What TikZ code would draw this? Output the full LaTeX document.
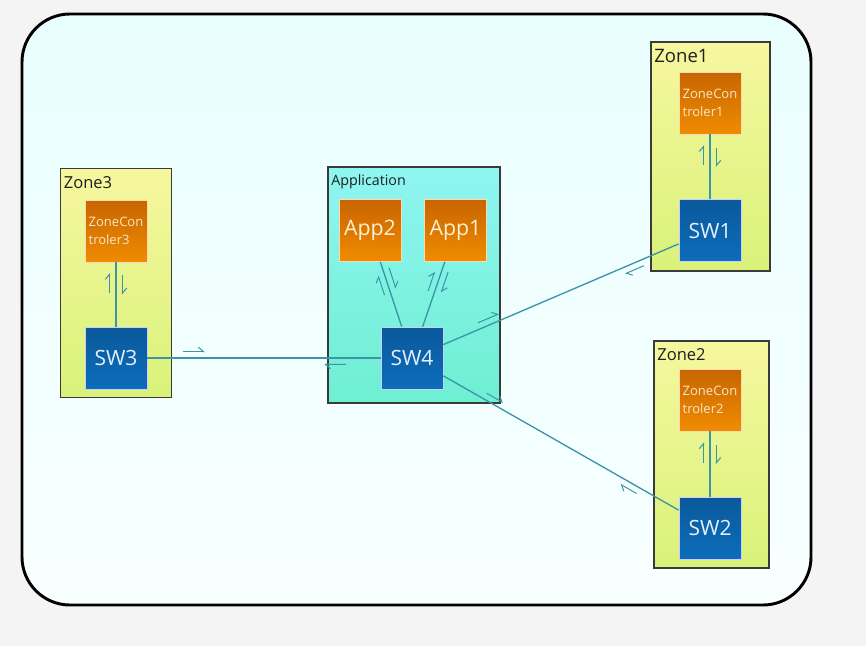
\documentclass[tikz,border=0pt]{standalone}
\usepackage{fontspec}
\setmainfont{Open Sans}
\usetikzlibrary{arrows.meta,calc}
\definecolor{pagebg}{HTML}{F4F4F4}
\definecolor{frametop}{HTML}{E9FEFE}
\definecolor{framebot}{HTML}{F8FFFF}
\definecolor{zonetop}{HTML}{F6F79E}
\definecolor{zonebot}{HTML}{D9F27A}
\definecolor{apptop}{HTML}{8FF5F1}
\definecolor{appbot}{HTML}{6EEFD2}
\definecolor{orgtop}{HTML}{C86500}
\definecolor{orgbot}{HTML}{F08C00}
\definecolor{bluetop}{HTML}{0A599B}
\definecolor{bluebot}{HTML}{0C6DBA}
\definecolor{conn}{HTML}{3C95A6}
\definecolor{zctext}{HTML}{F7E7C8}
\definecolor{apptext}{HTML}{FFF0D4}
\definecolor{swtext}{HTML}{E4F1FF}
\definecolor{zoneline}{HTML}{3A3A3A}
\newcommand\msgarr[4]{\draw[msg] ($ ($(#1)!#3!(#2)$)!4.8pt!90:(#2) $) -- ($ ($(#1)!#4!(#2)$)!4.8pt!90:(#2) $);}
\begin{document}
\begin{tikzpicture}[x=0.75pt,y=-0.75pt,
  framebox/.style={draw=black,line width=2.2pt,rounded corners=36pt,top color=frametop,bottom color=framebot},
  zonebox/.style={draw=zoneline,line width=0.8pt,top color=zonetop,bottom color=zonebot,inner sep=0pt},
  appzonebox/.style={draw=zoneline,line width=0.8pt,top color=apptop,bottom color=appbot,inner sep=0pt},
  zlabel/.style={anchor=north west,inner sep=1.5pt,xshift=1.2pt,yshift=-4.5pt,text=black!88},
  zcbox/.style={draw=orange!30,line width=0.5pt,top color=orgtop,bottom color=orgbot,minimum width=46.5pt,minimum height=46.5pt,inner sep=0pt,align=left,text=zctext,font=\fontsize{9.75}{13.5}\selectfont},
  appbox/.style={draw=orange!30,line width=0.5pt,top color=orgtop,bottom color=orgbot,minimum width=46.5pt,minimum height=46.5pt,inner sep=0pt,text=apptext,font=\fontsize{16}{18}\selectfont},
  swbox/.style={draw=white!80!blue,line width=0.5pt,top color=bluetop,bottom color=bluebot,minimum width=46.5pt,minimum height=46.5pt,inner sep=0pt,text=swtext,font=\fontsize{15.75}{18}\selectfont},
  link/.style={draw=conn,line width=1pt},
  msg/.style={draw=conn,line width=0.75pt,-{Straight Barb[left,length=3.8pt,width=6.5pt]}}
]
\useasboundingbox (0,0) rectangle (866,646);
\fill[pagebg] (0,0) rectangle (866,646);
\draw[framebox] (22,14) rectangle (811,605);

% containers
\node[zonebox,minimum width=89.25pt,minimum height=171.75pt] (zone1) at (710.5,156.5) {};
\node[zonebox,minimum width=86.25pt,minimum height=170.25pt] (zone2) at (711.5,454.5) {};
\node[zonebox,minimum width=83.25pt,minimum height=171.75pt] (zone3) at (116,283) {};
\node[appzonebox,minimum width=129pt,minimum height=177pt] (appzone) at (414,285) {};

\node[zlabel,font=\fontsize{13.9}{15}\selectfont] (zone1lbl) at (zone1.north west) {Zone1};
\node[zlabel,font=\fontsize{12.4}{14}\selectfont] (zone2lbl) at (zone2.north west) {Zone2};
\node[zlabel,font=\fontsize{12.4}{14}\selectfont] (zone3lbl) at (zone3.north west) {Zone3};
\node[zlabel,font=\fontsize{10.7}{12}\selectfont] (applbl) at (appzone.north west) {Application};

% boxes
\node[zcbox] (zc1) at (710,103) {ZoneCon\\troler1};
\node[swbox] (sw1) at (710,230.5) {SW1};
\node[zcbox] (zc2) at (710,400) {ZoneCon\\troler2};
\node[swbox] (sw2) at (710,528) {SW2};
\node[zcbox] (zc3) at (116,231) {ZoneCon\\troler3};
\node[swbox] (sw3) at (116,358) {SW3};
\node[appbox] (app2) at (370,230.5) {App2};
\node[appbox] (app1) at (455.5,230.5) {App1};
\node[swbox] (sw4) at (412,358) {SW4};

% connectors
\draw[link] (zc1) -- (sw1);
\draw[link] (zc2) -- (sw2);
\draw[link] (zc3) -- (sw3);
\draw[link] (app2) -- (sw4);
\draw[link] (app1) -- (sw4);
\draw[link] (sw3) -- (sw4);
\draw[link] (sw4) -- (sw1);
\draw[link] (sw4) -- (sw2);

% messages
\msgarr{zc1}{sw1}{0.35}{0.50}
\msgarr{sw1}{zc1}{0.51}{0.67}
\msgarr{zc2}{sw2}{0.35}{0.50}
\msgarr{sw2}{zc2}{0.51}{0.67}
\msgarr{zc3}{sw3}{0.35}{0.50}
\msgarr{sw3}{zc3}{0.51}{0.67}
\msgarr{app2}{sw4}{0.31}{0.47}
\msgarr{sw4}{app2}{0.51}{0.66}
\msgarr{app1}{sw4}{0.31}{0.47}
\msgarr{sw4}{app1}{0.51}{0.66}
\msgarr{sw3}{sw4}{0.226}{0.30}
\msgarr{sw4}{sw3}{0.223}{0.297}
\msgarr{sw4}{sw1}{0.23}{0.30}
\msgarr{sw1}{sw4}{0.23}{0.293}
\msgarr{sw4}{sw2}{0.24}{0.295}
\msgarr{sw2}{sw4}{0.236}{0.29}
\end{tikzpicture}
\end{document}
